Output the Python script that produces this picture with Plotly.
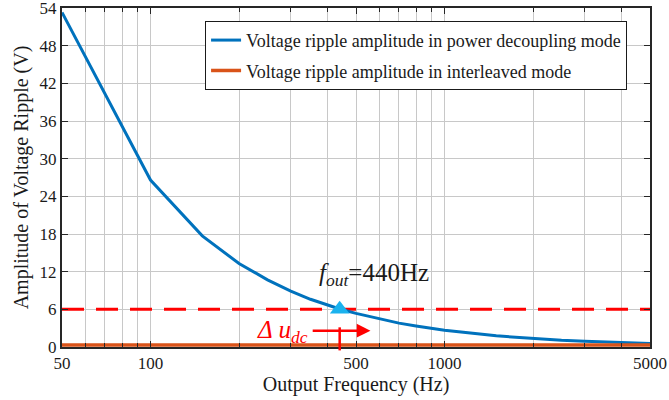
import math
import plotly.graph_objects as go

# ---- data ----
freq = [50, 100, 150, 200, 250, 300, 350, 400, 440, 500, 600, 700, 800, 900,
        1000, 1500, 2000, 2500, 3000, 3500, 4000, 4500, 5000]
ripple_decoupling = [53.3, 26.6, 17.7, 13.3, 10.7, 8.9, 7.6, 6.7, 6.05, 5.35, 4.45, 3.8,
                     3.35, 2.95, 2.67, 1.78, 1.34, 1.07, 0.9, 0.77, 0.67, 0.6, 0.55]
ripple_interleaved = [0.3] * len(freq)
limit_freq = [50, 5000]
limit_value = [6, 6]
f_out = 440
f_out_value = 6
x_tick_vals = [50, 100, 500, 1000, 5000]
x_tick_text = ["50", "100", "500", "1000", "5000"]
x_minor_vals = [60, 70, 80, 90, 200, 300, 400, 600, 700, 800, 900, 2000, 3000, 4000]
y_tick_vals = [0, 6, 12, 18, 24, 30, 36, 42, 48, 54]

FONT = "Liberation Serif"
BLUE = "#0072BD"
ORANGE = "#D95319"
RED = "#FF0000"
CYAN = "#1AB2EE"
GRID = "#C8C8C8"
AXIS = "#262626"

fig = go.Figure()

fig.add_trace(go.Scatter(
    x=limit_freq, y=limit_value, mode="lines",
    line=dict(color=RED, width=3, dash="22px,12px"),
    showlegend=False, hoverinfo="skip"))

fig.add_trace(go.Scatter(
    x=freq, y=ripple_decoupling, mode="lines",
    line=dict(color=BLUE, width=3),
    name="Voltage ripple amplitude in power decoupling mode",
    legendgroup="a"))

fig.add_trace(go.Scatter(
    x=freq, y=ripple_interleaved, mode="lines",
    line=dict(color=ORANGE, width=3.5),
    name="Voltage ripple amplitude in interleaved mode",
    legendgroup="b"))

fig.add_trace(go.Scatter(
    x=[f_out], y=[f_out_value], mode="markers",
    marker=dict(symbol="triangle-up", size=17, color=CYAN, line=dict(width=0)),
    showlegend=False, hoverinfo="skip"))

# vertical marker at f_out
fig.add_shape(type="line", xref="x", yref="paper",
              x0=f_out, x1=f_out, y0=-0.01, y1=0.058,
              line=dict(color=RED, width=2.5))

# arrow for delta u_dc
fig.add_annotation(x=math.log10(560), y=2.6, ax=math.log10(352), ay=2.6,
                   xref="x", yref="y", axref="x", ayref="y",
                   showarrow=True, arrowhead=2, arrowsize=1.1, arrowwidth=2.5,
                   arrowcolor=RED, text="")
fig.add_annotation(x=math.log10(348), y=2.4, xref="x", yref="y",
                   xanchor="right", yanchor="middle", showarrow=False,
                   text="<i>Δ u</i><sub><i>dc</i></sub>",
                   font=dict(family=FONT, size=25, color=RED))

fig.add_annotation(x=math.log10(575), y=11.6, xref="x", yref="y",
                   xanchor="center", yanchor="middle", showarrow=False,
                   text="<i>f</i><sub><i>out</i></sub>=440Hz",
                   font=dict(family=FONT, size=25, color="#1a1a1a"))

fig.update_layout(
    width=669, height=400,
    margin=dict(l=62, r=19, t=8, b=53, autoexpand=False),
    paper_bgcolor="white", plot_bgcolor="white",
    font=dict(family=FONT, size=17, color="#1a1a1a"),
    showlegend=True,
    legend=dict(x=0.961, y=0.962, xanchor="right", yanchor="top",
                bgcolor="white", bordercolor="#1a1a1a", borderwidth=1,
                font=dict(family=FONT, size=18, color="#1a1a1a"),
                traceorder="grouped", tracegroupgap=4, itemwidth=30),
)

fig.update_xaxes(
    type="log", range=[math.log10(50), math.log10(5000)],
    tickmode="array", tickvals=x_tick_vals, ticktext=x_tick_text,
    ticks="inside", ticklen=6, tickwidth=1, tickcolor=AXIS,
    showgrid=True, gridcolor=GRID, gridwidth=1,
    minor=dict(tickmode="array", tickvals=x_minor_vals, showgrid=True,
               gridcolor=GRID, gridwidth=1, ticks="inside", ticklen=4,
               tickcolor=AXIS),
    showline=True, linecolor=AXIS, linewidth=2, mirror="ticks",
    zeroline=False, automargin=False, ticklabeloverflow="allow",
    title=dict(text="Output Frequency (Hz)", font=dict(family=FONT, size=20), standoff=4),
    tickfont=dict(family=FONT, size=17),
)
fig.update_yaxes(
    range=[0, 54], tickmode="array", tickvals=y_tick_vals,
    ticks="inside", ticklen=6, tickwidth=1, tickcolor=AXIS,
    showgrid=True, gridcolor=GRID, gridwidth=1,
    showline=True, linecolor=AXIS, linewidth=2, mirror="ticks",
    zeroline=False, automargin=False, ticklabeloverflow="allow",
    title=dict(text="Amplitude of Voltage Ripple (V)", font=dict(family=FONT, size=20), standoff=6),
    tickfont=dict(family=FONT, size=17),
)

fig.write_html("out.html", config={"displayModeBar": False},
               post_script="document.body.style.margin='0';")
